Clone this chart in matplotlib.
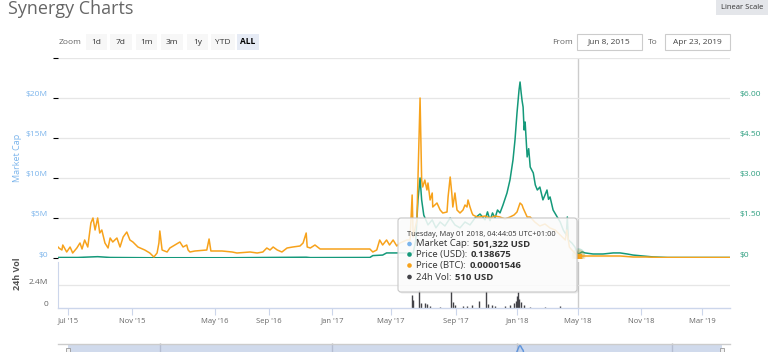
import numpy as np
import matplotlib
matplotlib.use('Agg')
import matplotlib.pyplot as plt
import matplotlib.dates as mdates
from matplotlib.patches import FancyBboxPatch, Rectangle, Circle
from matplotlib.transforms import offset_copy

plt.rcParams['font.family'] = ['Open Sans', 'DejaVu Sans']

# ---------------- data ----------------
usd_dates = [
    '2015-06-08', '2015-07-20', '2015-08-14', '2015-08-27', '2015-09-20', '2015-12-10',
    '2016-06-01', '2016-11-12', '2016-11-20',
    '2017-03-19', '2017-03-25', '2017-04-14', '2017-04-22', '2017-05-18', '2017-06-12',
    '2017-06-17', '2017-06-21', '2017-06-25', '2017-06-28', '2017-07-02', '2017-07-10',
    '2017-07-18', '2017-07-25', '2017-08-02', '2017-08-11', '2017-08-21', '2017-08-30',
    '2017-09-09', '2017-09-19', '2017-09-29', '2017-10-09', '2017-10-19', '2017-10-29',
    '2017-11-03', '2017-11-08', '2017-11-13', '2017-11-18', '2017-11-23', '2017-11-28',
    '2017-12-04', '2017-12-12', '2017-12-18', '2017-12-24', '2017-12-28',
    '2018-01-01', '2018-01-05', '2018-01-07', '2018-01-09', '2018-01-11', '2018-01-13',
    '2018-01-15', '2018-01-17', '2018-01-21', '2018-01-24', '2018-01-27', '2018-02-02',
    '2018-02-06', '2018-02-10', '2018-02-15', '2018-02-21', '2018-02-25', '2018-03-01',
    '2018-03-04', '2018-03-07', '2018-03-13', '2018-03-21', '2018-03-27', '2018-04-02',
    '2018-04-08', '2018-04-10', '2018-04-12', '2018-04-19', '2018-04-25', '2018-05-01',
    '2018-05-13', '2018-05-22', '2018-06-14', '2018-07-13', '2018-08-12', '2018-09-01',
    '2018-09-22', '2018-10-09', '2018-11-05', '2018-11-25', '2018-12-23', '2019-04-23']
usd_price = [
    0.02, 0.02, 0.04, 0.05, 0.02, 0.01,
    0.01, 0.03, 0.015,
    0.02, 0.09, 0.11, 0.19, 0.19, 0.19,
    0.68, 2.18, 3.00, 2.18, 1.61, 1.24,
    1.43, 1.13, 1.35, 1.20, 1.50, 1.24,
    1.13, 1.35, 1.24, 1.50, 1.65, 1.43,
    1.73, 1.40, 1.69, 1.50, 1.80, 1.69,
    1.99, 2.44, 2.93, 3.68, 4.43,
    5.44, 6.30, 6.60, 6.23, 5.90, 5.66,
    4.80, 5.10, 3.79, 4.10, 3.41, 3.19,
    2.74, 2.55, 2.66, 2.18, 2.36, 2.55,
    2.20, 2.29, 1.80, 1.54, 1.35, 1.05,
    0.86, 1.54, 0.68, 0.56, 0.41, 0.138675,
    0.23, 0.19, 0.15, 0.15, 0.19, 0.19,
    0.15, 0.11, 0.075, 0.04, 0.02, 0.02]

btc_dates = [
    '2015-06-08', '2015-06-10', '2015-06-17', '2015-06-19', '2015-06-28', '2015-07-05',
    '2015-07-10', '2015-07-18', '2015-07-24', '2015-07-28', '2015-08-02', '2015-08-08',
    '2015-08-14', '2015-08-18', '2015-08-22', '2015-08-27', '2015-08-31', '2015-09-04',
    '2015-09-10', '2015-09-16', '2015-09-20', '2015-09-25', '2015-10-03', '2015-10-09',
    '2015-10-15', '2015-10-22', '2015-10-28', '2015-11-03', '2015-11-14', '2015-11-29',
    '2015-12-10', '2015-12-19', '2015-12-26', '2015-12-30',
    '2016-01-01', '2016-01-06', '2016-01-17', '2016-01-23', '2016-02-03', '2016-02-14',
    '2016-02-21', '2016-02-29', '2016-03-03', '2016-03-07', '2016-03-18', '2016-04-13',
    '2016-04-18', '2016-04-22', '2016-05-17', '2016-06-09', '2016-06-20', '2016-07-20',
    '2016-08-05', '2016-08-18', '2016-08-27', '2016-09-03', '2016-09-09', '2016-09-17',
    '2016-09-26', '2016-10-06', '2016-10-17', '2016-10-31', '2016-11-06', '2016-11-12',
    '2016-11-14', '2016-11-20', '2016-11-29', '2016-12-09', '2016-12-28',
    '2017-01-17', '2017-02-06', '2017-03-05', '2017-03-19', '2017-03-25', '2017-04-02',
    '2017-04-08', '2017-04-14', '2017-04-22', '2017-04-28', '2017-05-05', '2017-05-12',
    '2017-05-18', '2017-05-31', '2017-06-06', '2017-06-10', '2017-06-12', '2017-06-19',
    '2017-06-21', '2017-06-25', '2017-06-28', '2017-06-30', '2017-07-04', '2017-07-08',
    '2017-07-10', '2017-07-14', '2017-07-18', '2017-07-19', '2017-07-27', '2017-08-02',
    '2017-08-07', '2017-08-15', '2017-08-17', '2017-08-21', '2017-08-24', '2017-08-26',
    '2017-08-30', '2017-09-03', '2017-09-09', '2017-09-15', '2017-09-19', '2017-09-23',
    '2017-09-25', '2017-09-29', '2017-10-03', '2017-10-05', '2017-10-13', '2017-10-19',
    '2017-10-29', '2017-11-08', '2017-11-18', '2017-11-28', '2017-12-08', '2017-12-18',
    '2017-12-26',
    '2018-01-01', '2018-01-07', '2018-01-11', '2018-01-13', '2018-01-21', '2018-01-27',
    '2018-02-05', '2018-02-15', '2018-02-25', '2018-03-07', '2018-03-17', '2018-03-27',
    '2018-04-06', '2018-04-09', '2018-04-14', '2018-04-19', '2018-04-25', '2018-05-01',
    '2018-05-16', '2018-06-14', '2018-08-02', '2018-09-01', '2018-10-09', '2018-11-13',
    '2018-12-08', '2019-04-23']
btc_price = [
    0.00011, 0.00010, 0.00008, 0.00013, 0.00006, 0.00011,
    0.00005, 0.00010, 0.00015, 0.00009, 0.00018, 0.00011,
    0.00035, 0.00040, 0.00028, 0.00040, 0.00025, 0.00028,
    0.00015, 0.00010, 0.00020, 0.00016, 0.00020, 0.00011,
    0.00021, 0.00026, 0.00018, 0.00016, 0.00011, 0.00008,
    0.00005, 0.00001, 0.00005, 0.00015,
    0.00027, 0.00008, 0.00006, 0.00010, 0.00013, 0.00016,
    0.00011, 0.00013, 0.00008, 0.00006, 0.00007, 0.00008,
    0.00019, 0.00007, 0.00007, 0.00006, 0.00005, 0.00006,
    0.00005, 0.00006, 0.00010, 0.00008, 0.00011, 0.00008,
    0.00006, 0.00010, 0.00011, 0.00012, 0.00015, 0.00025,
    0.00011, 0.00010, 0.00013, 0.00009, 0.00009,
    0.00009, 0.00009, 0.00009, 0.00009, 0.00006, 0.00008,
    0.00018, 0.00013, 0.00018, 0.00013, 0.00018, 0.00012,
    0.00015, 0.00018, 0.00018, 0.00063, 0.00021, 0.00038,
    0.00078, 0.00160, 0.00078, 0.00071, 0.00078, 0.00068,
    0.00075, 0.00058, 0.00065, 0.00051, 0.00055, 0.00048,
    0.00045, 0.00046, 0.00061, 0.00081, 0.00065, 0.00051,
    0.00065, 0.00048, 0.00045, 0.00048, 0.00053, 0.00051,
    0.00058, 0.00051, 0.00045, 0.00043, 0.00041, 0.00041,
    0.00042, 0.00040, 0.00042, 0.00041, 0.00039, 0.00041,
    0.00043,
    0.00046, 0.00055, 0.00053, 0.00050, 0.00041, 0.00041,
    0.00036, 0.00032, 0.00034, 0.00030, 0.00028, 0.00023,
    0.00018, 0.00028, 0.00011, 0.00008, 0.00005, 0.00001546,
    0.00002, 0.00002, 0.00002, 0.00002, 0.00001, 0.00001,
    0.000005, 0.000005]

vol_dates = [
    '2017-06-10', '2017-06-12', '2017-06-23', '2017-06-27', '2017-07-04', '2017-07-08',
    '2017-07-14', '2017-08-02', '2017-08-22', '2017-08-26', '2017-08-30', '2017-09-15',
    '2017-09-23', '2017-10-03', '2017-10-17', '2017-10-31', '2017-11-04', '2017-11-12',
    '2017-11-18', '2017-12-08', '2017-12-18', '2017-12-26', '2017-12-30', '2018-01-01',
    '2018-01-03', '2018-01-05', '2018-01-09', '2018-01-15', '2018-01-27', '2018-02-25',
    '2018-03-27', '2018-05-01']
vol_usd = [
    1.35e6, 0.8e6, 1.9e6, 0.5e6, 0.5e6, 0.4e6,
    0.2e6, 0.15e6, 1.8e6, 0.6e6, 0.3e6, 0.2e6,
    0.2e6, 0.3e6, 0.7e6, 1.8e6, 0.4e6, 0.3e6,
    0.2e6, 0.2e6, 0.3e6, 0.5e6, 0.7e6, 1.25e6,
    1.7e6, 0.95e6, 0.6e6, 0.3e6, 0.15e6, 0.1e6,
    0.2e6, 510]

x_tick_dates = ['2015-07-01', '2015-11-01', '2016-05-01', '2016-09-01', '2017-01-01',
                '2017-05-01', '2017-09-01', '2018-01-01', '2018-05-01', '2018-11-01',
                '2019-03-01']
x_tick_labels = ["Jul '15", "Nov '15", "May '16", "Sep '16", "Jan '17", "May '17",
                 "Sep '17", "Jan '18", "May '18", "Nov '18", "Mar '19"]
cap_ticks = [0, 5e6, 10e6, 15e6, 20e6]
cap_labels = ['$0', '$5M', '$10M', '$15M', '$20M']
usd_ticks = [0, 1.5, 3.0, 4.5, 6.0]
usd_labels = ['$0', '$1.50', '$3.00', '$4.50', '$6.00']
vol_ticks = [0, 2.4e6]
vol_labels = ['0', '2.4M']
range_start = '2015-06-08'
range_end = '2019-04-23'
hover_date = '2018-05-01'
hover_usd = 0.138675
hover_btc = 0.00001546
tooltip_header = 'Tuesday, May 01 2018, 04:44:05 UTC+01:00'
tooltip_names = ['Market Cap: ', 'Price (USD): ', 'Price (BTC): ', '24h Vol: ']
tooltip_values = ['501,322 USD', '0.138675', '0.00001546', '510 USD']
zoom_buttons = ['1d', '7d', '1m', '3m', '1y', 'YTD', 'ALL']
nav_grid_dates = ['2016-01-01', '2017-01-01', '2018-01-01', '2019-01-01']

# ---------------- style / layout ----------------
C_CAP = '#7cb5ec'
C_USD = '#14997a'
C_BTC = '#f7a21b'
C_VOL = '#434348'
C_GRID = '#e6e6e6'
C_AXIS = '#ccd6eb'

W, H = 768, 352
fig = plt.figure(figsize=(W / 100, H / 100), dpi=100)


def fx(x):
    return x / W


def fy(y):
    return 1 - y / H


def d2n(lst):
    return mdates.date2num(np.array(lst, dtype='datetime64[D]'))


# Highstock ordinal x-axis emulation (date -> pixel position)
ordinal_dates = [range_start] + x_tick_dates + [range_end]
ordinal_px = np.array([58, 68, 132, 215, 269, 332, 391, 456, 517, 578, 641, 702, 730], float)
ordinal_num = d2n(ordinal_dates)


def fwd(x):
    return np.interp(x, ordinal_num, ordinal_px)


def inv(p):
    return np.interp(p, ordinal_px, ordinal_num)


L, R = 58, 730
ax = fig.add_axes([fx(L), fy(258), (R - L) / W, 200 / H])
axv = fig.add_axes([fx(L), fy(308), (R - L) / W, 46 / H], sharex=ax)
ax.set_xscale('function', functions=(fwd, inv))
ax.set_xlim(ordinal_num[0], ordinal_num[-1])

# main pane (market cap axis: grid + labels)
ax.set_ylim(0, 25e6)
ax.set_yticks([0, 5e6, 10e6, 15e6, 20e6, 25e6])
ax.grid(axis='y', color=C_GRID, lw=0.9)
ax.tick_params(left=False, labelleft=False, bottom=False, labelbottom=False)
for s in ax.spines.values():
    s.set_visible(False)
tr_left = offset_copy(ax.get_yaxis_transform(), fig=fig, x=-10, y=3, units='dots')
for v, lab in zip(cap_ticks, cap_labels):
    ax.text(0, v, lab, transform=tr_left, ha='right', va='center', color=C_CAP, fontsize=6)

hover_num = d2n([hover_date])[0]
ax.axvline(hover_num, color='#cccccc', lw=1, zorder=1)

# USD price axis (right)
axr = ax.twinx()
axr.set_ylim(0, 7.5)
axr.axis('off')
axr.plot(d2n(usd_dates), usd_price, color=C_USD, lw=1.1, solid_joinstyle='round')
tr_right = offset_copy(axr.get_yaxis_transform(), fig=fig, x=10, y=3, units='dots')
for v, lab in zip(usd_ticks, usd_labels):
    axr.text(1, v, lab, transform=tr_right, ha='left', va='center', color='#2e9f80', fontsize=6)
axr.plot([hover_num], [hover_usd], marker='o', ms=9, color=C_USD, alpha=0.25, mew=0)

# BTC price axis (hidden)
axb = ax.twinx()
axb.set_ylim(0, 0.002)
axb.axis('off')
axb.plot(d2n(btc_dates), btc_price, color=C_BTC, lw=1.1, solid_joinstyle='round')
axb.plot([hover_num], [hover_btc], marker='o', ms=10, color=C_BTC, alpha=0.25, mew=0)
axb.plot([hover_num], [hover_btc], marker='s', ms=3.6, color=C_BTC, mec=C_BTC)

# volume pane
axv.set_ylim(0, 4.8e6)
axv.set_yticks([2.4e6])
axv.grid(axis='y', color=C_GRID, lw=0.9)
axv.tick_params(left=False, labelleft=False)
for k in ['top', 'right']:
    axv.spines[k].set_visible(False)
axv.spines['left'].set_color(C_AXIS)
axv.spines['bottom'].set_color(C_AXIS)
axv.spines['left'].set_linewidth(0.8)
axv.spines['bottom'].set_linewidth(1.0)
axv.vlines(d2n(vol_dates), 0, vol_usd, color=C_VOL, lw=1.0)
axv.axvline(hover_num, color='#cccccc', lw=1, zorder=0)
axv.set_xticks(d2n(x_tick_dates))
axv.set_xticklabels(x_tick_labels)
axv.tick_params(axis='x', length=5, width=0.8, color=C_AXIS, labelcolor='#666666',
                labelsize=5.5, pad=2)
tr_vol = offset_copy(axv.get_yaxis_transform(), fig=fig, x=-10, y=3, units='dots')
for v, lab in zip(vol_ticks, vol_labels):
    axv.text(0, v, lab, transform=tr_vol, ha='right', va='center', color='#666666', fontsize=6)

# navigator
axn = fig.add_axes([fx(L), fy(383), (R - L) / W, 40 / H], sharex=ax)
axn.set_ylim(0, 6.9)
axn.axis('off')
for d in d2n(nav_grid_dates):
    axn.axvline(d, color='#d8d8d8', lw=1)
axn.plot(d2n(usd_dates), usd_price, color='#5a9ae6', lw=1)
axn.fill_between(d2n(usd_dates), usd_price, color='#7cb5ec', alpha=0.15)

# ---------------- overlay (UI chrome) ----------------
ov = fig.add_axes([0, 0, 1, 1])
ov.set_xlim(0, W)
ov.set_ylim(H, 0)
ov.axis('off')
ov.set_zorder(20)
ov.patch.set_visible(False)

ov.text(8, 9, 'Synergy Charts', fontsize=13, color='#666666', ha='left', va='center')

# Linear scale button
ov.add_patch(Rectangle((716, 0), 52, 15, fc='#e4e6ea', ec='none'))
ov.text(742, 7.5, 'Linear Scale', fontsize=5.5, color='#333333', ha='center', va='center')

# range selector
ov.text(59, 42, 'Zoom', fontsize=6, color='#666666', ha='left', va='center')
btn_x = [(86, 107), (110, 132), (136, 157), (161, 183), (187, 208), (211, 235), (237, 259)]
for (x0, x1), lab in zip(btn_x, zoom_buttons):
    sel = lab == 'ALL'
    ov.add_patch(Rectangle((x0, 34), x1 - x0, 16, fc='#e6ebf5' if sel else '#f7f7f7', ec='none'))
    ov.text((x0 + x1) / 2, 42, lab, fontsize=6, ha='center', va='center',
            color='#000000' if sel else '#333333', fontweight='bold' if sel else 'normal')

ov.text(573, 42, 'From', fontsize=6, color='#666666', ha='right', va='center')
ov.add_patch(Rectangle((577, 34), 65, 16, fc='white', ec='#cccccc', lw=0.8))
ov.text(609.5, 42, 'Jun 8, 2015', fontsize=6, color='#444444', ha='center', va='center')
ov.text(658, 42, 'To', fontsize=6, color='#666666', ha='right', va='center')
ov.add_patch(Rectangle((665, 34), 65, 16, fc='white', ec='#cccccc', lw=0.8))
ov.text(697.5, 42, 'Apr 23, 2019', fontsize=6, color='#444444', ha='center', va='center')

# axis titles
ov.text(17, 158, 'Market Cap', fontsize=6.5, color=C_CAP, rotation=90, ha='center', va='center')
ov.text(17, 274, '24h Vol', fontsize=6.5, color='#555555', rotation=90, ha='center', va='center',
        fontweight='bold')

# navigator mask + outline
ov.add_patch(Rectangle((68, 344), 654, 12, fc=(102 / 255, 133 / 255, 194 / 255, 0.3), ec='none'))
ov.plot([58, 730], [343.5, 343.5], color='#cccccc', lw=1)
for hx in (68, 722):
    ov.add_patch(Rectangle((hx - 2, 348), 4, 8, fc='#f2f2f2', ec='#999999', lw=0.6))

# tooltip
ov.add_patch(FancyBboxPatch((399.5, 219.5), 179, 74, boxstyle='round,pad=0,rounding_size=3',
                            fc=(0, 0, 0, 0.08), ec='none'))
ov.add_patch(FancyBboxPatch((398, 218), 179, 74, boxstyle='round,pad=0,rounding_size=3',
                            fc=(1, 1, 1, 0.85), ec='#c8c8c8', lw=0.8))
ov.text(407, 234, tooltip_header, fontsize=5.3, color='#333333', ha='left', va='center')
fig.canvas.draw()
renderer = fig.canvas.get_renderer()
row_y = [244, 254.5, 265.5, 277]
bullet_c = [C_CAP, C_USD, C_BTC, C_VOL]
for yy, c, nm, val in zip(row_y, bullet_c, tooltip_names, tooltip_values):
    ov.add_patch(Circle((409.5, yy), 2.3, fc=c, ec='none'))
    t = ov.text(416, yy, nm, fontsize=6.8, color='#333333', ha='left', va='center')
    bb = t.get_window_extent(renderer)
    ov.text(bb.x1 + 1, yy, val, fontsize=6.8, color='#333333', ha='left', va='center',
            fontweight='bold')

fig.savefig('out.png', dpi=100)
